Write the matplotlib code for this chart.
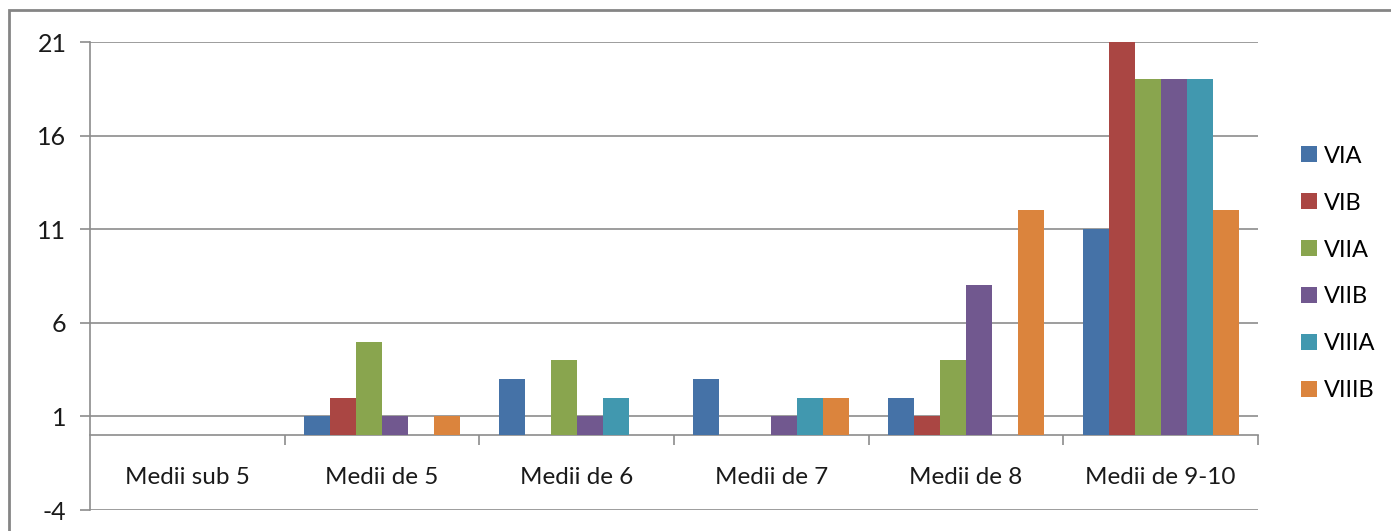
import numpy as np
import matplotlib.pyplot as plt
from matplotlib.patches import Rectangle

categories = ['Medii sub 5', 'Medii de 5', 'Medii de 6', 'Medii de 7', 'Medii de 8', 'Medii de 9-10']
series = ['VIA', 'VIB', 'VIIA', 'VIIB', 'VIIIA', 'VIIIB']
VIA = [0, 1, 3, 3, 2, 11]
VIB = [0, 2, 0, 0, 1, 21]
VIIA = [0, 5, 4, 0, 4, 19]
VIIB = [0, 1, 1, 1, 8, 19]
VIIIA = [0, 0, 2, 2, 0, 19]
VIIIB = [0, 1, 0, 2, 12, 12]
yticks = [-4, 1, 6, 11, 16, 21]

colors = ['#4572A7', '#AA4643', '#89A54E', '#71588F', '#4198AF', '#DB843D']
grey = '#8c8c8c'

plt.rcParams['font.family'] = ['Lato', 'DejaVu Sans']
plt.rcParams['axes.unicode_minus'] = False

fig = plt.figure(figsize=(13.91, 5.31), dpi=100)
ax = fig.add_axes([90 / 1391, 1 - 510 / 531, 1168 / 1391, 468 / 531])

x = np.arange(len(categories))
w = 0.8 / len(series)
for i, (name, vals) in enumerate(zip(series, [VIA, VIB, VIIA, VIIB, VIIIA, VIIIB])):
    ax.bar(x - 0.4 + w * (i + 0.5), vals, w, color=colors[i], label=name, zorder=3)

ax.set_xlim(-0.5, len(categories) - 0.5)
ax.set_ylim(-4, 21)
ax.set_yticks(yticks)
ax.yaxis.grid(True, color=grey, lw=1.2)
ax.set_axisbelow(True)
ax.tick_params(axis='y', length=7, color=grey, width=1.2, labelsize=18, labelcolor='#1a1a1a', pad=10)

for s in ['top', 'right']:
    ax.spines[s].set_visible(False)
ax.spines['left'].set_color(grey)
ax.spines['left'].set_linewidth(1.2)
ax.spines['bottom'].set_position(('data', 0))
ax.spines['bottom'].set_color(grey)
ax.spines['bottom'].set_linewidth(1.2)
ax.set_xticks([])
ax.set_xticks(np.arange(0.5, len(categories)), minor=True)
ax.tick_params(axis='x', which='minor', length=7, color=grey, width=1.2, labelbottom=False)

for xi, c in zip(x, categories):
    ax.text(xi, -2.25, c, ha='center', va='center', fontsize=17.5, color='#1a1a1a')

ax.legend(loc='center left', bbox_to_anchor=(1280 / 1391, 1 - 273.5 / 531),
          bbox_transform=fig.transFigure, frameon=False, fontsize=17,
          handlelength=0.65, handleheight=0.65, handletextpad=0.3, labelspacing=1.1)

fig.patches.append(Rectangle((9 / 1391, -0.1), 1.2, 1.1 - 10 / 531, transform=fig.transFigure,
                             fill=False, edgecolor='#858585', lw=2, figure=fig))

fig.savefig('out.png', dpi=100)
